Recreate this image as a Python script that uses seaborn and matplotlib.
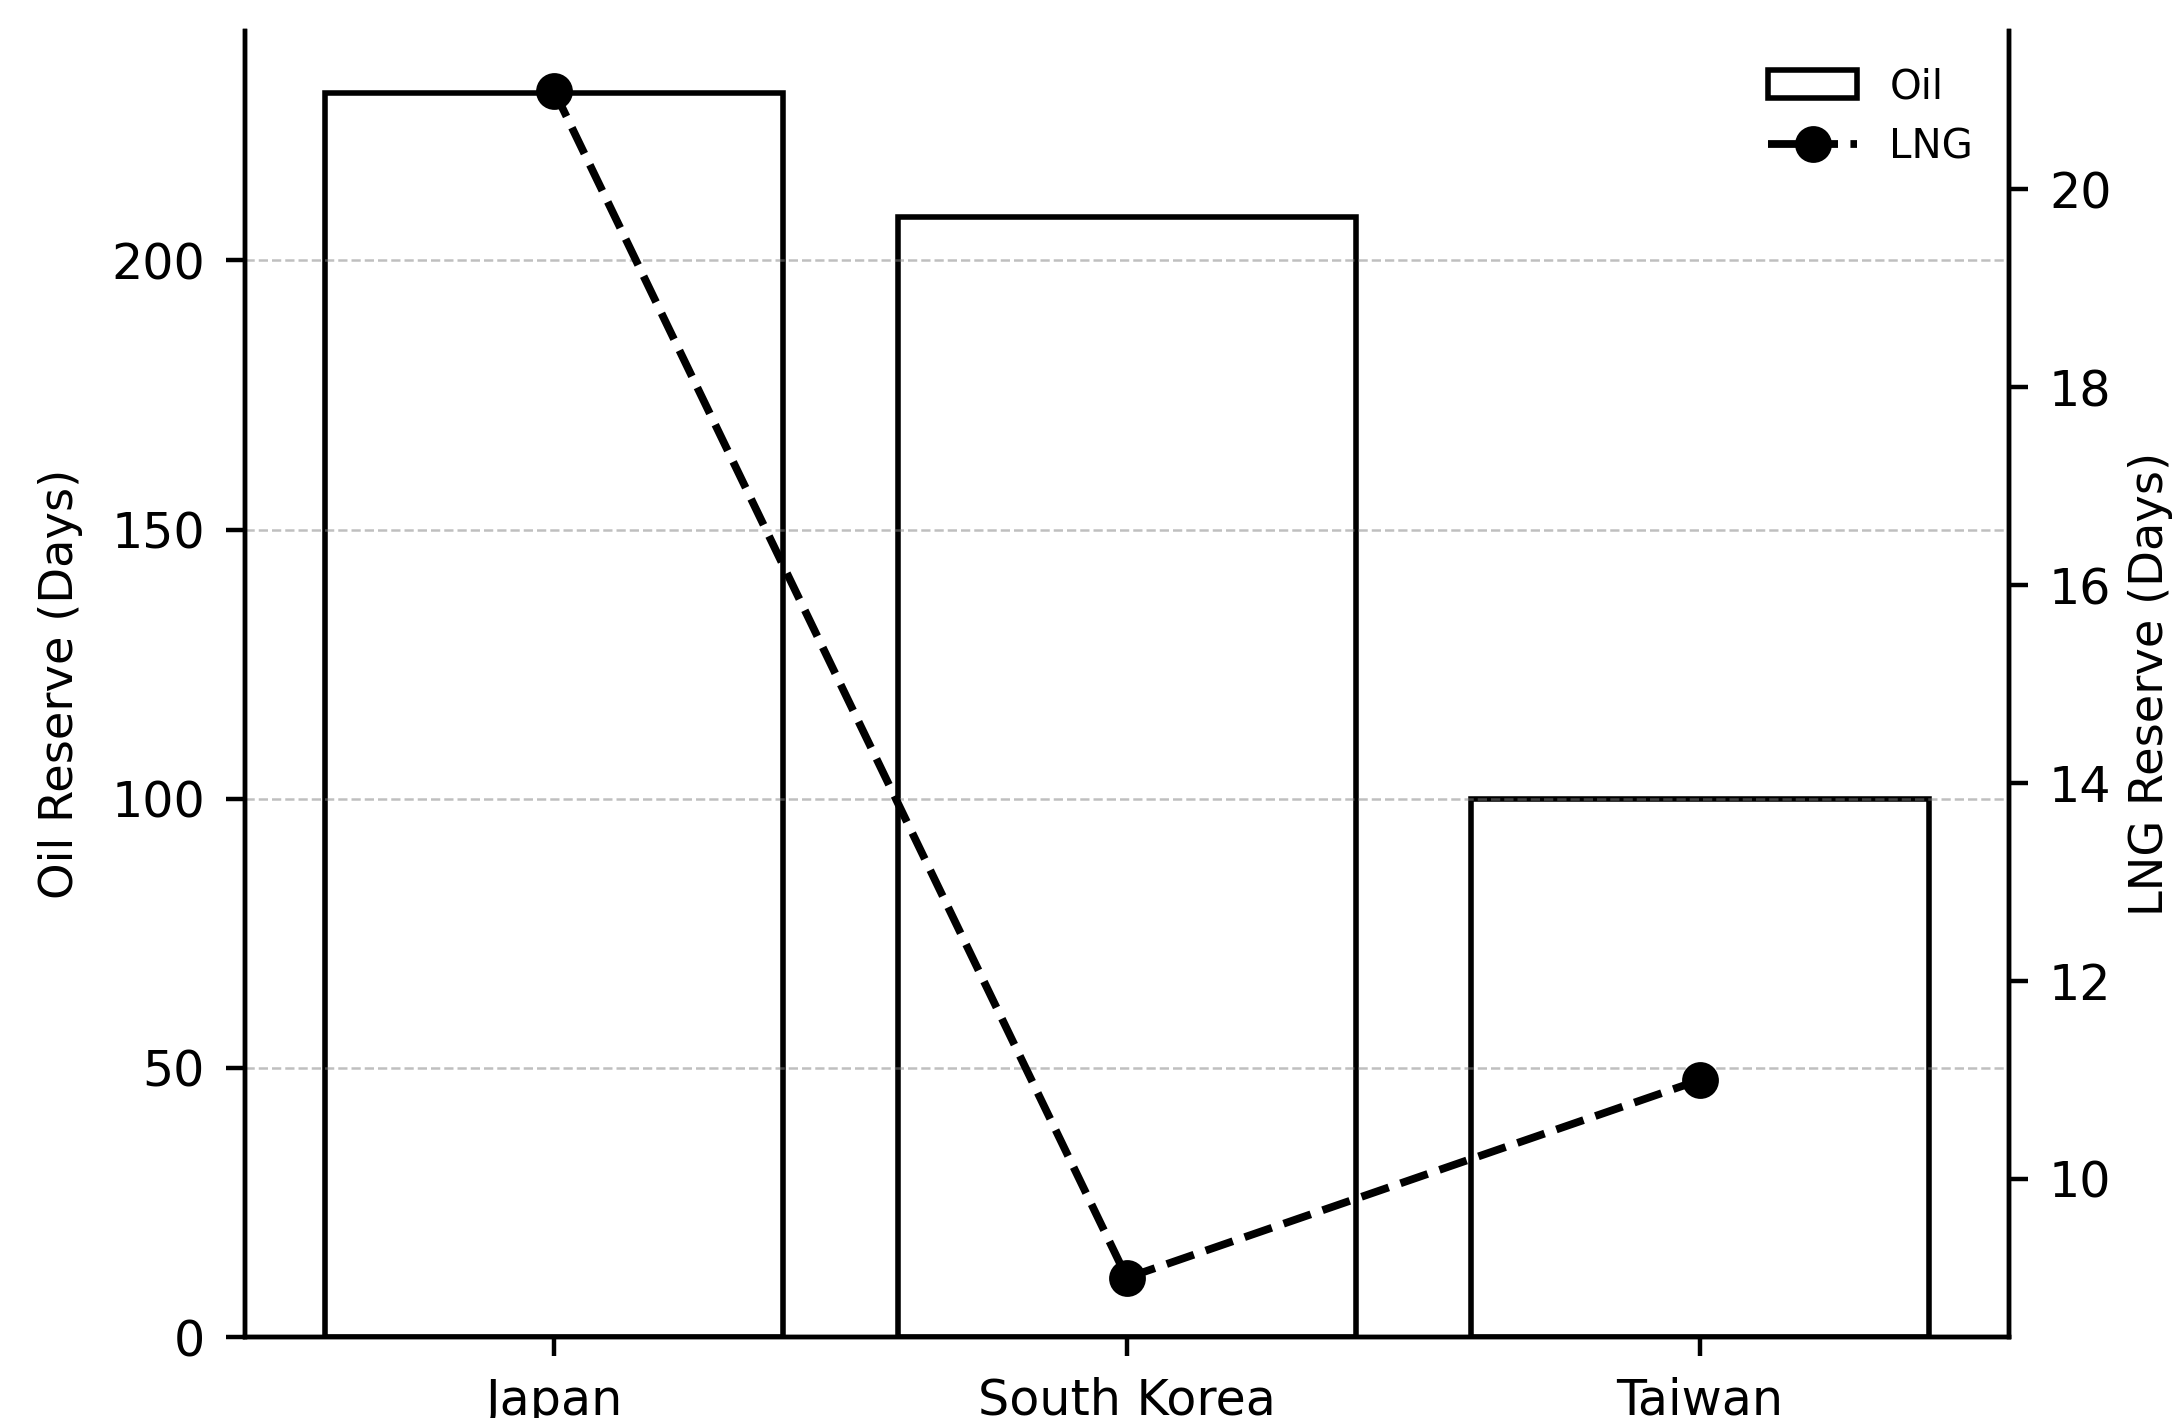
import matplotlib
matplotlib.use('Agg')
import pandas as pd
import matplotlib.pyplot as plt
import seaborn as sns

countries = ['Japan', 'South Korea', 'Taiwan']
oil_days = [231, 208, 100]
lng_days = [21, 9, 11]

df = pd.DataFrame({'Country': countries, 'Oil': oil_days, 'LNG': lng_days})
df['pos'] = range(len(df))

plt.rcParams['font.family'] = ['DejaVu Sans']

fig = plt.figure(figsize=(10.92, 7.09), dpi=200)
ax = fig.add_axes([0.112, 0.057, 0.808, 0.921])

# bars for oil reserve on left axis
sns.barplot(data=df, x='Country', y='Oil', color='white', edgecolor='black',
            linewidth=2.0, width=0.8, label='Oil', ax=ax)
if ax.get_legend() is not None:
    ax.get_legend().remove()

# LNG reserve line on right axis
ax2 = ax.twinx()
sns.lineplot(data=df, x='pos', y='LNG', color='black', linestyle='--', linewidth=2.8,
             marker='o', markersize=12.5, markeredgecolor='black', markerfacecolor='black',
             label='LNG', legend=False, ax=ax2)

ax.set_xlim(-0.54, 2.54)
ax.set_xlabel('')
ax2.set_xlabel('')
ax.set_ylabel('Oil Reserve (Days)', fontsize=16.7, labelpad=10)
ax2.set_ylabel('LNG Reserve (Days)', fontsize=16.7, labelpad=6)

ax.yaxis.grid(True, linestyle='--', color='gray', alpha=0.5, linewidth=0.9)

for a in (ax, ax2):
    a.spines['top'].set_visible(False)
    for s in ('left', 'right', 'bottom'):
        a.spines[s].set_linewidth(1.6)
    a.tick_params(labelsize=17.7, length=6.8, width=1.6, pad=7.5)

h1, l1 = ax.get_legend_handles_labels()
h2, l2 = ax2.get_legend_handles_labels()
ax2.legend(h1 + h2, l1 + l2, loc='upper right', frameon=False, fontsize=14.5,
           handlelength=2.2)

fig.savefig('out.png', dpi=200)
